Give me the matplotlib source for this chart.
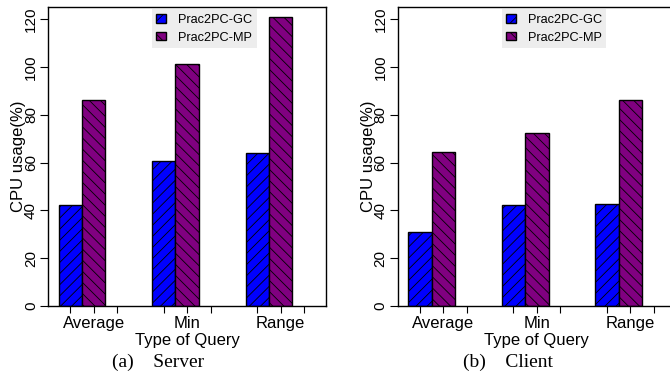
import matplotlib
matplotlib.use("Agg")
import matplotlib.pyplot as plt
import numpy as np
from matplotlib.patches import Patch

queries = ["Average", "Min", "Range"]
series = ["Prac2PC-GC", "Prac2PC-MP"]
server_gc = [42.3, 60.8, 64.2]
server_mp = [86.4, 101.5, 121.0]
client_gc = [30.8, 42.3, 42.9]
client_mp = [64.3, 72.3, 86.4]

plt.rcParams["font.family"] = ["Liberation Sans", "DejaVu Sans"]
plt.rcParams["hatch.linewidth"] = 0.6

W, H = 670, 385
fig = plt.figure(figsize=(W / 100, H / 100), dpi=100)

# R barplot layout: 3 slots per group (third empty) + 1 space
centers = np.arange(len(queries)) * 4 + 1.5


def panel(left_px, gc, mp, caption):
    ax = fig.add_axes([left_px / W, (H - 306) / H, 277.7 / W, 299 / H])
    ax.bar(centers, gc, width=1, color="#0000ff", edgecolor="black",
           linewidth=1, hatch="///")
    ax.bar(centers + 1, mp, width=1, color="#800080", edgecolor="black",
           linewidth=1, hatch="\\\\\\")
    ax.set_xlim(0.56, 12.44)
    ax.set_ylim(0, 125.2)
    ax.set_yticks(range(0, 121, 20))
    ax.tick_params(axis="y", labelsize=11, length=6, pad=1.5, labelrotation=90)
    for t in ax.get_yticklabels():
        t.set_va("center")
    ticks = np.concatenate([centers + k for k in range(3)])
    ticks.sort()
    labels = []
    for i in range(len(ticks)):
        labels.append(queries[i // 3] if i % 3 == 1 else "")
    ax.set_xticks(ticks)
    ax.set_xticklabels(labels)
    ax.tick_params(axis="x", labelsize=12, length=5, pad=2)
    for s in ax.spines.values():
        s.set_linewidth(1)
    ax.set_ylabel("CPU usage(%)", fontsize=12, va="center")
    ax.yaxis.set_label_coords(-0.108, 0.5)
    ax.set_xlabel("Type of Query", fontsize=12, va="center")
    ax.xaxis.set_label_coords(0.5, -(341 - 306) / 299)
    handles = [Patch(facecolor="#0000ff", edgecolor="black", hatch="///"),
               Patch(facecolor="#800080", edgecolor="black", hatch="\\\\\\")]
    ax.legend(handles, series, loc="upper left",
              bbox_to_anchor=(103.5 / 277.7, (306 - 9.5) / 299),
              fontsize=9.2, frameon=True, fancybox=False, facecolor="#ededed",
              edgecolor="none", framealpha=1, handlelength=0.8, handleheight=0.6,
              handletextpad=0.9, borderpad=0.35, labelspacing=0.45,
              borderaxespad=0)
    fig.text((left_px + 110) / W, 1 - 362 / H, caption, family="Liberation Serif",
             fontsize=14, ha="center", va="center")
    return ax


panel(48.3, server_gc, server_mp, "(a)    Server")
panel(398, client_gc, client_mp, "(b)    Client")

fig.savefig("out.png", dpi=100)
